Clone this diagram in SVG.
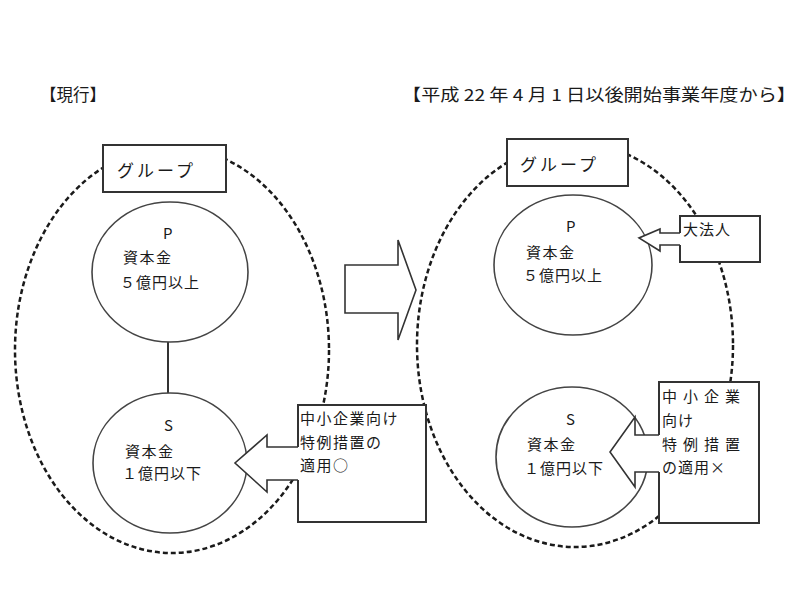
<svg xmlns="http://www.w3.org/2000/svg" width="800" height="614" viewBox="0 0 800 614">
<style>
text{font-family:"Noto Sans CJK JP","Noto Sans CJK SC",sans-serif;font-size:15px;fill:#1a1a1a;}
.t{font-size:16.5px;}
.g{font-size:17px;}
.grp{fill:none;stroke:#1a1a1a;stroke-width:2.5;stroke-dasharray:5 3;}
.box{fill:#fff;stroke:#333;stroke-width:2;}
.cir{fill:#fff;stroke:#444;stroke-width:1.6;}
.arw{fill:#fff;stroke:none;}
.arl{fill:none;stroke:#333;stroke-width:1.6;stroke-linejoin:miter;}
.ln{stroke:#333;stroke-width:2;}
</style>
<rect width="800" height="614" fill="#fff"/>
<g id="title-left"><text class="t" x="40" y="101">【現行】</text></g>
<g id="title-right"><text class="t" x="402" y="101" textLength="394" lengthAdjust="spacingAndGlyphs">【平成 22 年 4 月 1 日以後開始事業年度から】</text></g>

<g id="group-left"><ellipse class="grp" cx="172" cy="350" rx="157" ry="203"/></g>
<g id="group-right"><ellipse class="grp" cx="575" cy="345" rx="158" ry="202"/></g>

<g id="connectors">
<line class="ln" x1="168" y1="342" x2="168" y2="393"/>
<g id="transition-arrow">
<polygon points="345,265 398,265 398,240 416,290 398,340 398,313 345,313" fill="#fff" stroke="#333" stroke-width="1.6"/>
</g>
</g>

<g id="label-group-left"><rect class="box" x="103" y="145" width="123" height="47"/><text class="g" x="117" y="177" letter-spacing="3">グループ</text></g>
<g id="label-group-right"><rect class="box" x="507" y="139" width="121" height="47"/><text class="g" x="520" y="171" letter-spacing="3">グループ</text></g>

<g id="node-P-left"><ellipse class="cir" cx="170" cy="272" rx="78" ry="70"/>
<text x="163" y="239" font-size="13">P</text>
<text x="123" y="263" letter-spacing="1.5">資本金</text>
<text x="120" y="288" letter-spacing="1">５億円以上</text></g>

<g id="node-S-left"><ellipse class="cir" cx="170" cy="463" rx="77" ry="70"/>
<text x="164" y="431" font-size="13">S</text>
<text x="125" y="457" letter-spacing="1.5">資本金</text>
<text x="122" y="479" letter-spacing="1">１億円以下</text></g>

<g id="node-P-right"><ellipse class="cir" cx="573" cy="265" rx="79" ry="70"/>
<text x="566" y="232" font-size="13">P</text>
<text x="526" y="258" letter-spacing="1.5">資本金</text>
<text x="523" y="281" letter-spacing="1">５億円以上</text></g>

<g id="node-S-right"><ellipse class="cir" cx="572" cy="457" rx="76" ry="70"/>
<text x="566" y="425" font-size="13">S</text>
<text x="527" y="450" letter-spacing="1.5">資本金</text>
<text x="524" y="474" letter-spacing="1">１億円以下</text></g>

<g id="callout-left">
<rect class="box" x="298" y="405" width="128" height="117"/>
<polygon class="arw" points="235,463 267,435 267,447 300,447 300,480 267,480 267,492"/>
<polyline class="arl" points="298,447 267,447 267,435 235,463 267,492 267,480 298,480"/>
<text x="300" y="424" letter-spacing="1.5">中小企業向け</text>
<text x="300" y="448" letter-spacing="1.5">特例措置の</text>
<text x="300" y="471" letter-spacing="1.5">適用○</text>
</g>

<g id="callout-bighouse">
<rect class="box" x="680" y="216" width="80" height="46"/>
<polygon class="arw" points="639,238 660,229 660,233 682,233 682,245 660,245 660,251"/>
<polyline class="arl" points="680,233 660,233 660,229 639,238 660,251 660,245 680,245"/>
<text x="683" y="235" letter-spacing="1">大法人</text>
</g>

<g id="callout-right">
<rect class="box" x="659" y="382" width="100" height="141"/>
<polygon class="arw" points="610,452 635,417 635,435 661,435 661,472 635,472 635,487"/>
<polyline class="arl" points="659,435 635,435 635,417 610,452 635,487 635,472 659,472"/>
<text x="662" y="402" letter-spacing="6">中小企業</text>
<text x="662" y="426" letter-spacing="1">向け</text>
<text x="662" y="450" letter-spacing="6">特例措置</text>
<text x="662" y="473" letter-spacing="1">の適用×</text>
</g>
</svg>
